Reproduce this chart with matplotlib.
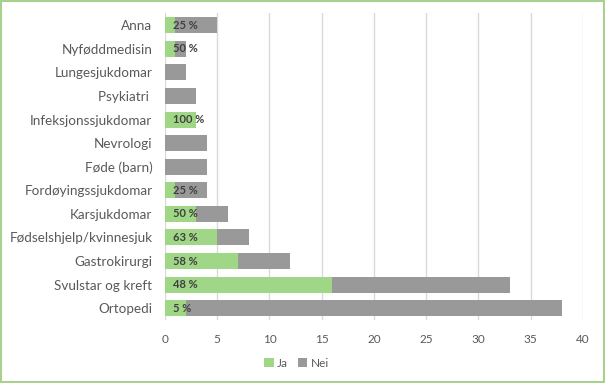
import matplotlib
matplotlib.use("Agg")
import matplotlib.pyplot as plt
from matplotlib.patches import Rectangle

plt.rcParams['font.family'] = ['Lato', 'DejaVu Sans']

# kategoriar (frå topp til botn)
kategoriar = ['Anna', 'Nyføddmedisin', 'Lungesjukdomar', 'Psykiatri ',
              'Infeksjonssjukdomar', 'Nevrologi', 'Føde (barn)',
              'Fordøyingssjukdomar', 'Karsjukdomar', 'Fødselshjelp/kvinnesjuk',
              'Gastrokirurgi', 'Svulstar og kreft', 'Ortopedi']
ja = [1, 1, 0, 0, 3, 0, 0, 1, 3, 5, 7, 16, 2]
nei = [4, 1, 2, 3, 0, 4, 4, 3, 3, 3, 5, 17, 36]
etikettar = ['25 %', '50 %', '', '', '100 %', '', '', '25 %', '50 %',
             '63 %', '58 %', '48 %', '5 %']

gronn = '#A0D786'
graa = '#999999'

fig = plt.figure(figsize=(6.05, 3.83), dpi=100)
ax = fig.add_axes([0.2727, 0.1645, 0.6909, 0.8003])

y = list(range(len(kategoriar)))
ax.barh(y, ja, height=0.68, color=gronn, label='Ja', zorder=3)
ax.barh(y, nei, left=ja, height=0.68, color=graa, label='Nei', zorder=3)

for yi, tekst in zip(y, etikettar):
    if tekst:
        ax.annotate(tekst, (0, yi), xytext=(6, 0), textcoords='offset points',
                    ha='left', va='center', fontsize=8, fontweight='bold',
                    color='#404040', zorder=4)

ax.set_xlim(0, 40)
ax.set_ylim(len(kategoriar) - 0.5, -0.5)
ax.set_xticks(range(0, 41, 5))
ax.set_yticks(y)
ax.set_yticklabels(kategoriar)
ax.grid(axis='x', color='#D9D9D9', linewidth=1, zorder=0)
for s in ax.spines.values():
    s.set_visible(False)
ax.tick_params(axis='both', length=0, colors='#595959')
ax.tick_params(axis='y', pad=9, labelsize=9.7)
ax.tick_params(axis='x', pad=10, labelsize=8.5)

ax.legend(loc='center', bbox_to_anchor=(0.49, 0.052), bbox_transform=fig.transFigure,
          ncol=2, frameon=False, fontsize=8.5, handlelength=0.8, handleheight=0.8,
          handletextpad=0.3, columnspacing=0.8, labelcolor='#595959')

fig.patches.append(Rectangle((0.0015, 0.002), 0.997, 0.995, transform=fig.transFigure,
                             fill=False, edgecolor='#A9D18E', linewidth=1.5))

fig.savefig('out.png', dpi=100)
